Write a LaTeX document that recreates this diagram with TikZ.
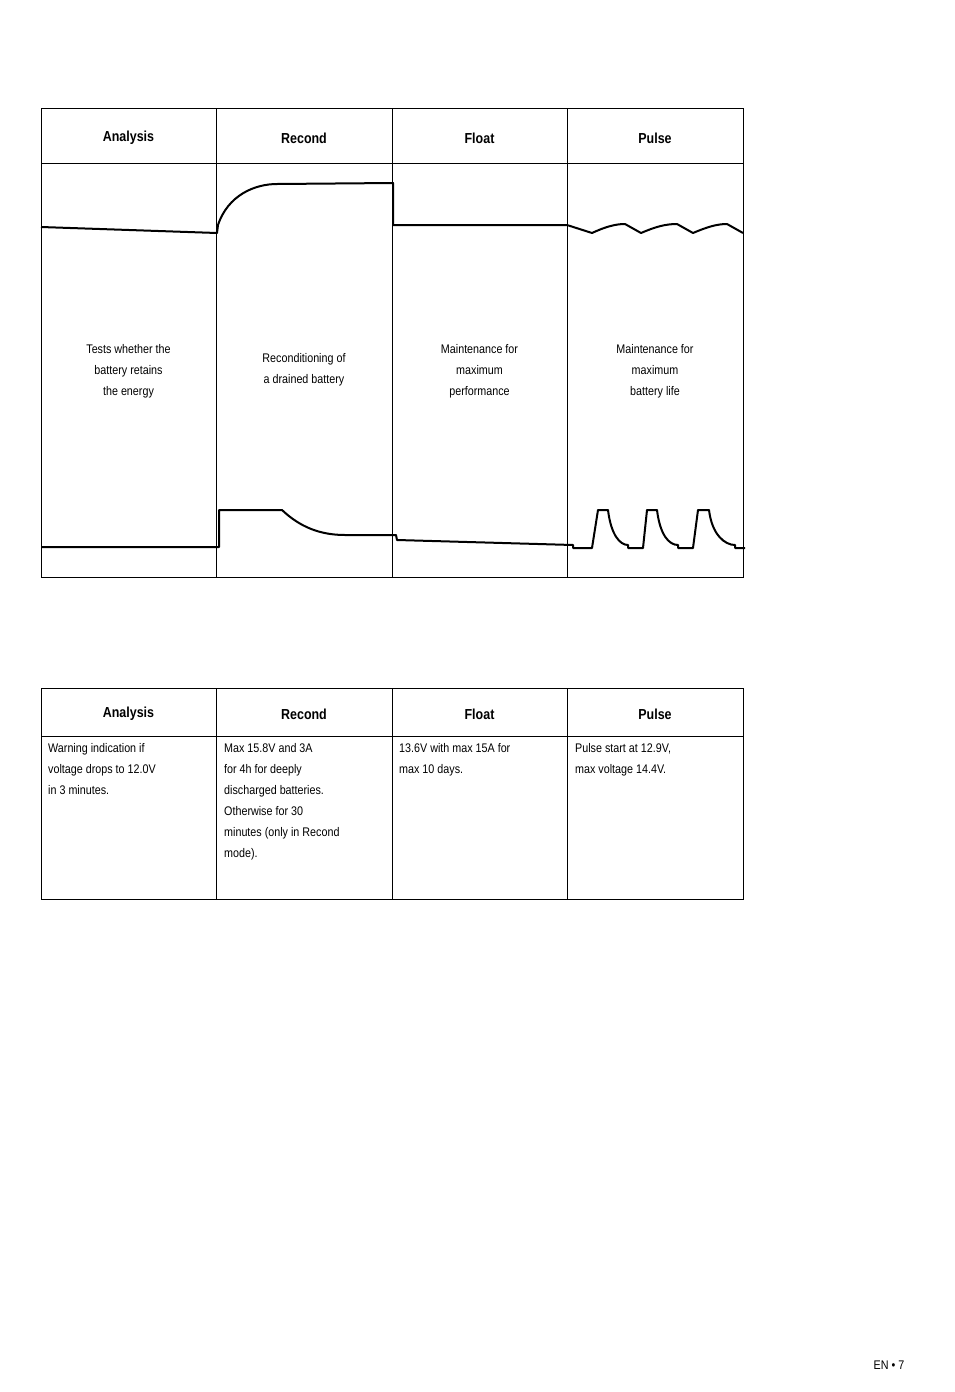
\documentclass[tikz,border=0pt]{standalone}
\usepackage{fontspec}
\setmainfont[FakeStretch=0.86]{Liberation Sans}
\begin{document}
\begin{tikzpicture}[x=1pt,y=-1pt,
 hd/.style={font=\fontsize{14.5}{17}\selectfont\bfseries},
 ct/.style={font=\fontsize{12.5}{21}\selectfont,align=center},
 lt/.style={font=\fontsize{12.5}{21}\selectfont,align=left,anchor=north west,inner sep=0pt},
 grid/.style={draw=black,line width=0.7pt},
 wave/.style={line width=2pt,line join=round}]
\useasboundingbox (0,0) rectangle (954,1392);
% table 1
\draw[grid] (41,108) rectangle (743,577);
\draw[grid] (41,163) -- (743,163);
\foreach \x in {216,392,567} \draw[grid] (\x,108) -- (\x,577);
\node[hd] (h1) at (128.5,138) {Analysis};
\node[hd] (h2) at (304,138) {Recond};
\node[hd] (h3) at (479.5,138) {Float};
\node[hd] (h4) at (655,138) {Pulse};
\node[ct] (t1) at (128.5,371) {Tests whether the\\battery retains\\the energy};
\node[ct] (t2) at (304,370) {Reconditioning of\\a drained battery};
\node[ct] (t3) at (479.5,371) {Maintenance for\\maximum\\performance};
\node[ct] (t4) at (655,371) {Maintenance for\\maximum\\battery life};
% upper curve
\draw[wave] (41,227) -- (217,233) -- (218,225) .. controls (228,195) and (255,184) .. (277,184) -- (393,183) -- (393,225) -- (567,225)
 -- (592,233) .. controls (605,227) and (615,224) .. (625,224) -- (641,233) .. controls (655,227) and (665,224) .. (677,224) -- (693,233) .. controls (707,227) and (717,224) .. (727,224) -- (743,233);
% lower curve
\draw[wave] (41,547) -- (219,547) -- (219,510) -- (282,510) .. controls (300,527) and (320,535) .. (345,535) -- (396,535) -- (397,540) -- (573,545) -- (573,548) -- (592,548)
 -- (598,510) -- (608,510) .. controls (611,535) and (620,545) .. (628,545) -- (628,548) -- (643,548)
 -- (647,510) -- (657,510) .. controls (660,535) and (669,545) .. (678,545) -- (678,548) -- (693,548)
 -- (698,510) -- (709,510) .. controls (712,535) and (725,545) .. (735,545) -- (735,548) -- (745,548);
% table 2
\draw[grid] (41,688) rectangle (743,899);
\draw[grid] (41,736) -- (743,736);
\foreach \x in {216,392,567} \draw[grid] (\x,688) -- (\x,899);
\node[hd] (g1) at (128.5,714) {Analysis};
\node[hd] (g2) at (304,714) {Recond};
\node[hd] (g3) at (479.5,714) {Float};
\node[hd] (g4) at (655,714) {Pulse};
\node[lt] (u1) at (48,743) {Warning indication if\\voltage drops to 12.0V\\in 3 minutes.};
\node[lt] (u2) at (224,743) {Max 15.8V and 3A\\for 4h for deeply\\discharged batteries.\\Otherwise for 30\\minutes (only in Recond\\mode).};
\node[lt] (u3) at (399,743) {13.6V with max 15A for\\max 10 days.};
\node[lt] (u4) at (575,743) {Pulse start at 12.9V,\\max voltage 14.4V.};
\node[font=\fontsize{12.5}{15}\selectfont] (pg) at (889,1365) {EN \textbullet\ 7};
\end{tikzpicture}
\end{document}
